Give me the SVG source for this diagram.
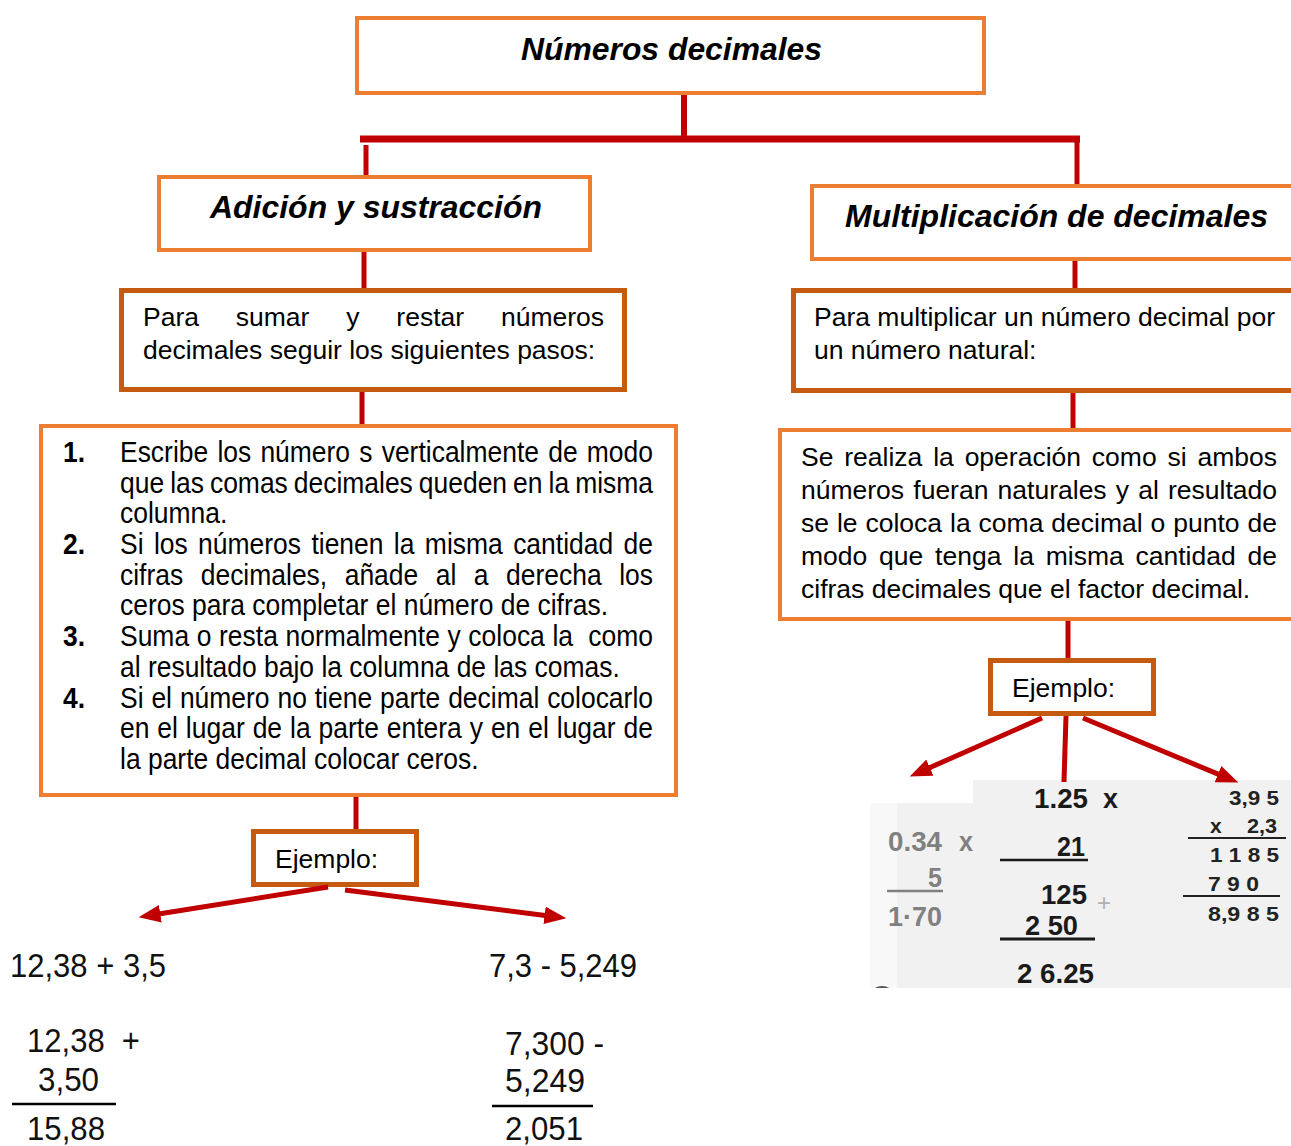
<svg xmlns="http://www.w3.org/2000/svg" width="1291" height="1146" viewBox="0 0 1291 1146">
<style>
.bo{fill:#fff;stroke:#ED7D31;stroke-width:4}
.bd{fill:#fff;stroke:#C55A11;stroke-width:5}
.t{font-family:"Liberation Sans",Arial,sans-serif;font-size:26.5px;fill:#000}
.h{font-family:"Liberation Sans",Arial,sans-serif;font-size:32px;font-weight:bold;font-style:italic;fill:#000}
.n{font-family:"Liberation Sans",Arial,sans-serif;font-size:29px;fill:#000}
.nb{font-family:"Liberation Sans",Arial,sans-serif;font-size:29px;font-weight:bold;fill:#000}
.m{font-family:"Liberation Sans",Arial,sans-serif;font-size:33px;fill:#111}
.ib{font-family:"Liberation Sans",Arial,sans-serif;font-size:27px;font-weight:bold;fill:#1a1a1a}
.ig{font-family:"Liberation Sans",Arial,sans-serif;font-size:27px;font-weight:bold;fill:#808080}
.is{font-family:"Liberation Sans",Arial,sans-serif;font-size:21px;font-weight:bold;fill:#222}
.c{stroke:#C00000;stroke-width:5;fill:none}
.a{stroke:#C00000;stroke-width:5;fill:none;marker-end:url(#ah)}
</style>
<defs>
<marker id="ah" markerUnits="userSpaceOnUse" markerWidth="22" markerHeight="18" refX="6" refY="8" orient="auto" viewBox="0 0 20 16">
<path d="M0,0 L20,8 L0,16 Z" fill="#C00000"/>
</marker>
<clipPath id="imgclip"><path d="M973,780 H1291 V988 H870 V803 H973 Z"/></clipPath>
</defs>
<rect width="1291" height="1146" fill="#fff"/>

<g id="root">
<rect class="bo" x="357" y="18" width="627" height="75"/>
<text class="h" x="521" y="60" textLength="301" lengthAdjust="spacingAndGlyphs">Números decimales</text>
</g>

<g id="adicion">
<rect class="bo" x="159" y="177" width="431" height="73"/>
<text class="h" x="210" y="218" textLength="332" lengthAdjust="spacingAndGlyphs">Adición y sustracción</text>
</g>

<g id="para-sumar">
<rect class="bd" x="121.5" y="290.5" width="503" height="99"/>
<text class="t" x="143" y="326" style="word-spacing:29.5px" textLength="461" lengthAdjust="spacing">Para sumar y restar números</text>
<text class="t" x="143" y="359">decimales seguir los siguientes pasos:</text>
</g>

<g id="pasos">
<rect class="bo" x="41" y="426" width="635" height="369"/>
<g transform="translate(63,0) scale(0.912,1)">
<text class="nb" x="0" y="462">1.</text>
<text class="nb" x="0" y="554.1">2.</text>
<text class="nb" x="0" y="646.2">3.</text>
<text class="nb" x="0" y="707.6">4.</text>
</g>
<g transform="translate(120,0) scale(0.912,1)">
<text class="n" x="0" y="462" style="word-spacing:2px" textLength="584.4" lengthAdjust="spacing">Escribe los número s verticalmente de modo</text>
<text class="n" x="0" y="492.7" style="word-spacing:-1.4px" textLength="584.4" lengthAdjust="spacing">que las comas decimales queden en la misma</text>
<text class="n" x="0" y="523.4">columna.</text>
<text class="n" x="0" y="554.1" style="word-spacing:3.3px" textLength="584.4" lengthAdjust="spacing">Si los números tienen la misma cantidad de</text>
<text class="n" x="0" y="584.8" style="word-spacing:11.1px" textLength="584.4" lengthAdjust="spacing">cifras decimales, añade al a derecha los</text>
<text class="n" x="0" y="615.5">ceros para completar el número de cifras.</text>
<text class="n" x="0" y="646.2" xml:space="preserve" style="word-spacing:0.3px" textLength="584.4" lengthAdjust="spacing">Suma o resta normalmente y coloca la  como</text>
<text class="n" x="0" y="676.9">al resultado bajo la columna de las comas.</text>
<text class="n" x="0" y="707.6" style="word-spacing:0.6px" textLength="584.4" lengthAdjust="spacing">Si el número no tiene parte decimal colocarlo</text>
<text class="n" x="0" y="738.3" style="word-spacing:0.6px" textLength="584.4" lengthAdjust="spacing">en el lugar de la parte entera y en el lugar de</text>
<text class="n" x="0" y="769">la parte decimal colocar ceros.</text>
</g>
</g>

<g id="ejemplo-izq">
<rect class="bd" x="253.5" y="831.5" width="163" height="53"/>
<text class="t" x="275" y="868">Ejemplo:</text>
</g>

<g id="ejemplo-suma">
<text class="m" x="10" y="977" textLength="156" lengthAdjust="spacingAndGlyphs">12,38 + 3,5</text>
<text class="m" x="27" y="1052" xml:space="preserve" textLength="113" lengthAdjust="spacingAndGlyphs">12,38  +</text>
<text class="m" x="38" y="1091" textLength="61" lengthAdjust="spacingAndGlyphs">3,50</text>
<line x1="12" y1="1104" x2="116" y2="1104" stroke="#000" stroke-width="2.5"/>
<text class="m" x="27" y="1140" textLength="78" lengthAdjust="spacingAndGlyphs">15,88</text>
</g>

<g id="ejemplo-resta">
<text class="m" x="489" y="977" textLength="148" lengthAdjust="spacingAndGlyphs">7,3 - 5,249</text>
<text class="m" x="505" y="1055" textLength="99" lengthAdjust="spacingAndGlyphs">7,300 -</text>
<text class="m" x="505" y="1092" textLength="80" lengthAdjust="spacingAndGlyphs">5,249</text>
<line x1="492" y1="1106" x2="593" y2="1106" stroke="#000" stroke-width="2.5"/>
<text class="m" x="505" y="1140" textLength="78" lengthAdjust="spacingAndGlyphs">2,051</text>
</g>

<g id="multiplicacion">
<rect class="bo" x="812" y="186" width="520" height="73"/>
<text class="h" x="845" y="227" textLength="423" lengthAdjust="spacingAndGlyphs">Multiplicación de decimales</text>
</g>

<g id="para-multiplicar">
<rect class="bd" x="793.5" y="290.5" width="540" height="100"/>
<text class="t" x="814" y="326" textLength="461" lengthAdjust="spacing">Para multiplicar un número decimal por</text>
<text class="t" x="814" y="359">un número natural:</text>
</g>

<g id="se-realiza">
<rect class="bo" x="780" y="430" width="540" height="189"/>
<text class="t" x="801" y="466" style="word-spacing:3.5px" textLength="476" lengthAdjust="spacing">Se realiza la operación como si ambos</text>
<text class="t" x="801" y="499" style="word-spacing:1.8px" textLength="476" lengthAdjust="spacing">números fueran naturales y al resultado</text>
<text class="t" x="801" y="532" style="word-spacing:0.6px" textLength="476" lengthAdjust="spacing">se le coloca la coma decimal o punto de</text>
<text class="t" x="801" y="565" style="word-spacing:4.4px" textLength="476" lengthAdjust="spacing">modo que tenga la misma cantidad de</text>
<text class="t" x="801" y="598">cifras decimales que el factor decimal.</text>
</g>

<g id="ejemplo-der">
<rect class="bd" x="990.5" y="660.5" width="163" height="53"/>
<text class="t" x="1012" y="697">Ejemplo:</text>
</g>

<g id="ejemplos-multiplicacion">
<g clip-path="url(#imgclip)">
<rect x="870" y="780" width="421" height="208" fill="#f1f1f1"/>
<rect x="870" y="780" width="27" height="208" fill="#f8f8f8"/>
<circle cx="882" cy="1000" r="14" fill="#555"/>
</g>
<text class="ig" x="888" y="851" textLength="54" lengthAdjust="spacingAndGlyphs">0.34</text>
<text class="ig" x="959" y="851" textLength="14" lengthAdjust="spacingAndGlyphs">x</text>
<text class="ig" x="928" y="887" textLength="14" lengthAdjust="spacingAndGlyphs">5</text>
<line x1="887" y1="891" x2="943" y2="891" stroke="#808080" stroke-width="2.5"/>
<text class="ig" x="888" y="926" textLength="54" lengthAdjust="spacingAndGlyphs">1·70</text>

<text class="ib" x="1034" y="808" textLength="54" lengthAdjust="spacingAndGlyphs">1.25</text>
<text class="ib" x="1103" y="808" textLength="15" lengthAdjust="spacingAndGlyphs">x</text>
<text class="ib" x="1057" y="856" textLength="28" lengthAdjust="spacingAndGlyphs">21</text>
<line x1="1000" y1="860" x2="1088" y2="860" stroke="#1a1a1a" stroke-width="2.5"/>
<text class="ib" x="1041" y="904" textLength="46" lengthAdjust="spacingAndGlyphs">125</text>
<text x="1097" y="911" font-family="Liberation Sans, Arial, sans-serif" font-size="24" fill="#b0b0b0">+</text>
<text class="ib" x="1025" y="935" textLength="53" lengthAdjust="spacingAndGlyphs">2 50</text>
<line x1="1000" y1="939" x2="1095" y2="939" stroke="#1a1a1a" stroke-width="3"/>
<text class="ib" x="1017" y="983" textLength="77" lengthAdjust="spacingAndGlyphs">2 6.25</text>

<text class="is" x="1229" y="805" textLength="50" lengthAdjust="spacingAndGlyphs">3,9 5</text>
<text class="is" x="1210" y="833">x</text>
<text class="is" x="1247" y="833" textLength="30" lengthAdjust="spacingAndGlyphs">2,3</text>
<line x1="1188" y1="838" x2="1286" y2="838" stroke="#222" stroke-width="2"/>
<text class="is" x="1210" y="862" textLength="69" lengthAdjust="spacingAndGlyphs">1 1 8 5</text>
<text class="is" x="1208" y="891" textLength="51" lengthAdjust="spacingAndGlyphs">7 9 0</text>
<line x1="1183" y1="896" x2="1280" y2="896" stroke="#222" stroke-width="2"/>
<text class="is" x="1208" y="921" textLength="71" lengthAdjust="spacingAndGlyphs">8,9 8 5</text>
</g>

<g id="connectors">
<line class="c" x1="684" y1="95" x2="684" y2="139" style="stroke-width:6"/>
<line class="c" x1="360" y1="139" x2="1080" y2="139" style="stroke-width:7"/>
<line class="c" x1="366" y1="145" x2="366" y2="175"/>
<line class="c" x1="1077" y1="139" x2="1077" y2="184"/>
<line class="c" x1="364" y1="252" x2="364" y2="288"/>
<line class="c" x1="362" y1="392" x2="362" y2="424"/>
<line class="c" x1="356" y1="797" x2="356" y2="829"/>
<line class="a" x1="328" y1="887" x2="153.8" y2="914.8"/>
<line class="a" x1="345" y1="890" x2="551.1" y2="916.2"/>
<line class="c" x1="1075" y1="261" x2="1075" y2="288"/>
<line class="c" x1="1073" y1="393" x2="1073" y2="428"/>
<line class="c" x1="1068" y1="621" x2="1068" y2="658"/>
<line class="a" x1="1042" y1="718" x2="923.8" y2="770.3"/>
<line class="c" x1="1066" y1="716" x2="1064" y2="782"/>
<line class="a" x1="1083" y1="718" x2="1224.1" y2="776.6"/>
</g>
</svg>
